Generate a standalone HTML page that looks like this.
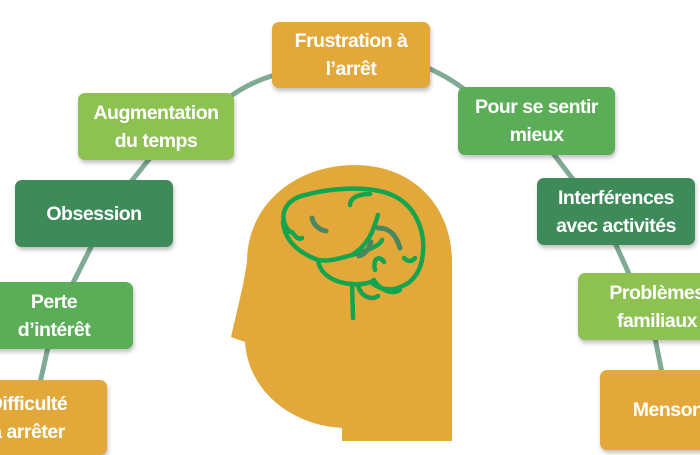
<!DOCTYPE html>
<html><head><meta charset="utf-8"><style>
body{margin:0;width:700px;height:441px;overflow:hidden;background:#fff;position:relative;font-family:"Liberation Sans",sans-serif}
.b{position:absolute;border-radius:7px;color:#fff;font-weight:bold;font-size:19.5px;line-height:28px;text-align:center;display:flex;align-items:center;justify-content:center;box-shadow:1px 3px 4px rgba(0,0,0,.25);letter-spacing:-0.5px;white-space:nowrap}
.o{background:#E2A93A}.lg{background:#8DC152}.g{background:#5BAE57}.dg{background:#3E8A58}
svg{position:absolute;left:0;top:0}
</style></head><body>
<svg width="700" height="441">
<g stroke="#7FAA94" stroke-width="5" fill="none">
<path d="M275,75 Q250,82 228,98"/>
<path d="M428,68 Q450,78 465,90"/>
<path d="M150,158 L130,183"/>
<path d="M92,245 L72,285"/>
<path d="M48,347 L40,383"/>
<path d="M552,152 L575,182"/>
<path d="M615,243 L630,276"/>
<path d="M655,338 L662,373"/>
</g>
<path d="M342,441 L342,428 C290,425 248,390 245,342 L231,337 L243,285 L247,262 C247,205 295,165 355,165 C412,165 452,205 452,262 L452,441 Z" fill="#E3A83A"/>
<g stroke="#12A54F" stroke-width="4.5" fill="none" stroke-linecap="round" stroke-linejoin="round">
<path d="M290,232 C278,220 282,200 305,195 C330,188 370,185 392,195 C415,205 425,230 423,252 C422,268 415,282 400,287 C390,292 378,288 372,283"/>
<path d="M283,222 C285,245 305,255 318,260 C330,262 340,258 352,255 C370,250 380,245 382,240"/>
<path d="M318,260 C320,275 335,283 352,284 C362,285 370,283 374,280"/>
<path d="M374,280 C380,290 392,295 400,290"/>
<path d="M352,284 L353,318"/>
<path d="M358,286 C362,298 372,300 378,296"/>
<path d="M352,255 C368,245 373,232 378,215"/>
<path d="M350,205 C350,198 358,194 370,194"/>
<path d="M375,270 C372,258 380,255 384,262"/>
<path d="M404,258 C408,262 412,262 415,258"/>
<path d="M292,232 C296,238 300,240 302,238"/>
</g>
<g stroke="#4A875E" stroke-width="5" fill="none" stroke-linecap="round">
<path d="M312,218 C314,226 320,230 326,231"/>
<path d="M378,228 C390,228 396,235 400,248"/>
<path d="M371,242 C369,250 365,254 359,256"/>
</g>
</svg>
<div class="b o" style="left:272px;top:22px;width:158px;height:66px">Frustration à<br>l’arrêt</div>
<div class="b lg" style="left:78px;top:93px;width:156px;height:67px">Augmentation<br>du temps</div>
<div class="b g" style="left:458px;top:87px;width:157px;height:68px">Pour se sentir<br>mieux</div>
<div class="b dg" style="left:15px;top:180px;width:158px;height:67px">Obsession</div>
<div class="b dg" style="left:537px;top:178px;width:158px;height:67px">Interférences<br>avec activités</div>
<div class="b g" style="left:-25px;top:282px;width:158px;height:67px">Perte<br>d’intérêt</div>
<div class="b lg" style="left:578px;top:273px;width:158px;height:67px">Problèmes<br>familiaux</div>
<div class="b o" style="left:-51px;top:380px;width:158px;height:75px">Difficulté<br>à arrêter</div>
<div class="b o" style="left:600px;top:370px;width:158px;height:80px">Mensonge</div>
</body></html>
